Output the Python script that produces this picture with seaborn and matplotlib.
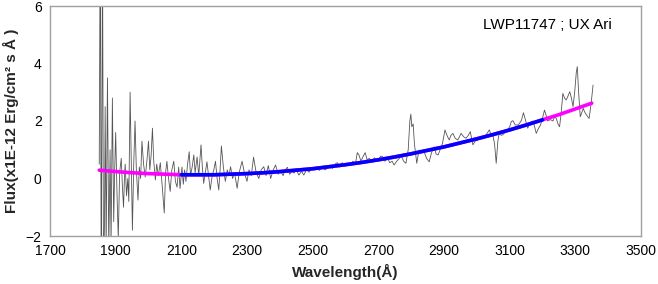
import matplotlib
matplotlib.use("Agg")
import matplotlib.pyplot as plt
import seaborn as sns

# spectrum (wavelength in Angstrom, flux in 1E-12 erg/cm2/s/A)
spec_wave = [
    1850, 1853, 1856, 1860, 1863, 1866, 1868, 1871, 1875, 1879,
    1883, 1886, 1890, 1894, 1897, 1900, 1904, 1908, 1912, 1917,
    1921, 1924, 1927, 1929, 1933, 1937, 1940, 1944, 1948, 1951,
    1955, 1959, 1963, 1968, 1972, 1976, 1980, 1985, 1990, 1995,
    2000, 2004, 2008, 2012, 2016, 2021, 2025, 2030, 2036, 2042,
    2048, 2052, 2056, 2061, 2066, 2071, 2077, 2082, 2087, 2092,
    2096, 2102, 2106, 2110, 2114, 2119, 2124, 2128, 2133, 2138,
    2142, 2148, 2153, 2160, 2164, 2168, 2173, 2178, 2183, 2188,
    2194, 2199, 2204, 2209, 2214, 2218, 2222, 2228, 2234, 2240,
    2245, 2250, 2256, 2262, 2270, 2276, 2285, 2292, 2300, 2306,
    2313, 2320, 2328, 2336, 2343, 2351,
    2358, 2365, 2372, 2380, 2387, 2395, 2402, 2410, 2416, 2423,
    2430, 2437, 2443, 2450, 2458, 2466, 2473, 2481, 2489, 2497,
    2504, 2512, 2520, 2528, 2537, 2545, 2553, 2560, 2568, 2575,
    2582, 2590, 2598, 2606,
    2614, 2622, 2630, 2636, 2641, 2647, 2653, 2660, 2666, 2672,
    2680, 2688, 2695, 2702, 2708, 2713, 2720, 2728, 2735, 2742,
    2748, 2756, 2764, 2770, 2777, 2784, 2791, 2796, 2799, 2802,
    2806, 2810, 2817, 2821, 2825, 2832, 2840, 2847, 2855, 2862,
    2870, 2876, 2882, 2888, 2895,
    2903, 2909, 2916, 2921, 2927, 2934, 2942, 2947, 2952, 2960,
    2967, 2974, 2980, 2988, 2995, 3003, 3012, 3018, 3023, 3030,
    3038, 3044, 3049, 3054, 3059, 3064, 3069, 3074, 3079, 3086,
    3094, 3100, 3105, 3110, 3117, 3125, 3130,
    3136, 3142, 3149, 3155, 3163, 3171, 3176, 3181, 3188, 3194,
    3200, 3206, 3211, 3216, 3224, 3232, 3237, 3242, 3247, 3252,
    3257, 3262, 3267, 3272, 3277, 3283, 3288, 3293, 3298, 3303,
    3306, 3310, 3315, 3320, 3324, 3329, 3334, 3338, 3342, 3348,
    3354,
]
spec_flux = [
    0.5, 9.0, -4.0, 8.0, -3.5, -1.5, 2.5, -2.5, 3.5, -2.5,
    1.0, -2.3, 2.8, -1.5, 0.3, 1.6, -0.5, -2.1, 0.2, 0.7,
    -0.4, -1.0, 0.1, 0.5, -0.6, 0.0, -0.8, 3.0, 0.2, -1.8,
    0.5, 2.0, 0.3, -0.75, 0.4, 0.0, 1.3, 0.5, 0.05, 0.6,
    1.3, 0.3, 0.8, 1.75, 0.6, -0.05, 0.5, 0.1, 0.55, -0.3,
    -1.2, 0.2, 0.6, 0.0, -0.45, 0.3, 0.6, -0.1, -0.3, 0.4,
    -0.35, 0.4, -0.2, 0.3, -0.1, 0.5, 0.93, 0.1, 0.4, 0.82,
    0.2, 0.75, 0.1, 1.17, 0.4, -0.17, 0.2, 0.58, 0.1, -0.4,
    0.1, 0.3, 0.6, 0.0, -0.4, 0.3, 1.13, 0.4, -0.1, 0.3,
    0.1, 0.41, 0.0, 0.2, -0.34, 0.2, 0.6, 0.2, -0.1, 0.3,
    0.1, 0.74, 0.2, 0.0, 0.3, 0.41,
    0.1, 0.45, 0.0, 0.3, 0.47, 0.15, 0.26, 0.1, 0.3, 0.39,
    0.15, 0.25, 0.19, 0.3, 0.12, 0.25, 0.12, 0.3, 0.22, 0.35,
    0.3, 0.4, 0.28, 0.42, 0.3, 0.35, 0.45, 0.35, 0.5, 0.55,
    0.4, 0.55, 0.45, 0.53,
    0.45, 0.6, 0.5, 0.9, 0.82, 0.6, 0.75, 0.9, 0.65, 0.7,
    0.6, 0.72, 0.62, 0.7, 0.78, 0.76, 0.6, 0.7, 0.55, 0.6,
    0.47, 0.6, 0.7, 0.8, 0.6, 0.53, 1.0, 2.0, 2.24, 1.8,
    1.9, 1.2, 0.53, 0.8, 0.99, 0.9, 0.91, 0.7, 0.58, 0.9,
    1.1, 0.85, 0.82, 1.0, 1.2,
    1.69, 1.5, 1.34, 1.5, 1.57, 1.4, 1.34, 1.45, 1.57, 1.45,
    1.4, 1.5, 1.63, 1.17, 1.3, 1.34, 1.45, 1.38, 1.45, 1.55,
    1.69, 1.5, 1.5, 1.2, 0.53, 1.3, 1.63, 1.5, 1.52, 1.6,
    1.69, 1.8, 1.98, 2.01, 1.86, 1.86, 1.92,
    2.03, 2.29, 2.0, 1.75, 1.95, 2.0, 1.8, 1.57, 1.75, 1.86,
    2.1, 2.38, 2.2, 2.0, 2.05, 2.0, 2.15, 2.09, 1.9, 1.8,
    2.3, 2.96, 2.8, 2.73, 2.85, 3.02, 2.8, 2.5, 3.0, 3.7,
    3.89, 3.0, 2.15, 2.3, 2.44, 2.3, 2.21, 2.15, 2.09, 2.6,
    3.25,
]

# continuum fit (magenta: full range, blue: fitted window)
fit_wave = [1850, 1900, 1950, 2000, 2050, 2100, 2150, 2200, 2250, 2300,
            2350, 2400, 2450, 2500, 2550, 2600, 2650, 2700, 2750, 2800,
            2850, 2900, 2950, 3000, 3050, 3100, 3150, 3200, 3250, 3300, 3350]
fit_flux = [0.29, 0.24, 0.20, 0.17, 0.15, 0.13, 0.13, 0.13, 0.15, 0.17,
            0.20, 0.24, 0.29, 0.34, 0.41, 0.48, 0.56, 0.65, 0.75, 0.86,
            0.98, 1.10, 1.24, 1.38, 1.53, 1.69, 1.86, 2.04, 2.22, 2.42, 2.62]
window = (2100, 3200)

x_ticks = [1700, 1900, 2100, 2300, 2500, 2700, 2900, 3100, 3300, 3500]
y_ticks = [-2, 0, 2, 4, 6]

sns.set_theme(style="white")
plt.rcParams["font.family"] = ["Liberation Sans", "DejaVu Sans"]

fig = plt.figure(figsize=(6.58, 2.84), dpi=100)
ax = fig.add_axes([50 / 658, 1 - 236 / 284, 591 / 658, 230 / 284])

sns.lineplot(x=spec_wave, y=spec_flux, ax=ax, estimator=None, sort=False,
             color="#555555", linewidth=0.6)
sns.lineplot(x=fit_wave, y=fit_flux, ax=ax, estimator=None, sort=False,
             color="#ff00ff", linewidth=2.6)
blue_w = [w for w in fit_wave if window[0] <= w <= window[1]]
blue_f = [f for w, f in zip(fit_wave, fit_flux) if window[0] <= w <= window[1]]
sns.lineplot(x=blue_w, y=blue_f, ax=ax, estimator=None, sort=False,
             color="#0000ff", linewidth=2.6)

ax.set_xlim(1700, 3500)
ax.set_ylim(-2, 6)
ax.set_xticks(x_ticks)
ax.set_yticks(y_ticks)
ax.tick_params(axis="both", direction="inout", length=6, width=0.8,
               color="#a0a0a0", labelsize=10, labelcolor="black", pad=3)
for s in ax.spines.values():
    s.set_color("#a0a0a0")
    s.set_linewidth(1.0)

ax.set_xlabel("Wavelength(Å)", fontsize=11, fontweight="bold", labelpad=4)
ax.set_ylabel("Flux(x1E-12 Erg/cm² s Å )", fontsize=11, fontweight="bold",
              labelpad=5)
ax.text(3018, 5.34, "LWP11747 ; UX Ari", fontsize=11, va="center",
        ha="left", color="black")

fig.savefig("out.png", dpi=100)
